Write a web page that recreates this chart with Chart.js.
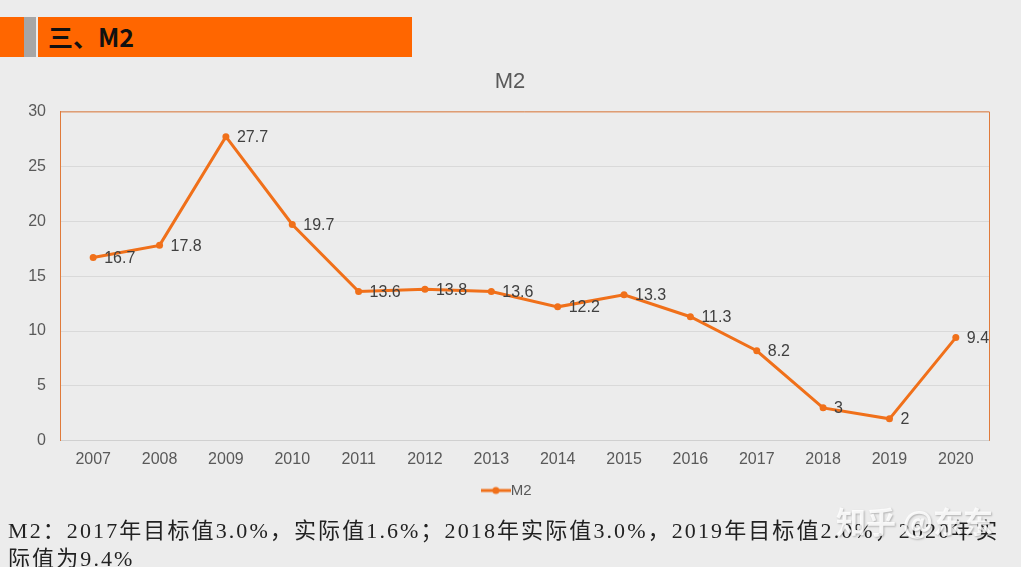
<!DOCTYPE html>
<html>
<head>
<meta charset="utf-8">
<script src="https://cdn.jsdelivr.net/npm/chart.js@4"></script>
<style>
  body { margin: 0; width: 1021px; height: 567px; overflow: hidden; background: #ececec; position: relative; font-family: "Liberation Sans", Arial, sans-serif; }
  #wrap { position: absolute; left: 0; top: 0; width: 1021px; height: 567px; }
  .bar1 { position: absolute; left: 0; top: 17px; width: 24px; height: 40px; background: #ff6600; }
  .bar2 { position: absolute; left: 24px; top: 17px; width: 12px; height: 40px; background: #a6a6a6; }
  .bar3 { position: absolute; left: 38px; top: 17px; width: 374px; height: 40px; background: #ff6600; }
  .head { position: absolute; left: 48px; top: 18px; font: bold 25px "Noto Sans CJK SC", "Liberation Sans", sans-serif; color: #111; }
  .note { position: absolute; left: 8px; top: 517px; width: 1010px; font-size: 22px; line-height: 28px; color: #222; letter-spacing: 2.1px;
          font-family: "Liberation Serif", "Noto Sans CJK SC", serif; }
  .mark { position: absolute; left: 836px; top: 498px; font: bold 30px "Noto Sans CJK SC", sans-serif; color: rgba(255,255,255,0.85);
          text-shadow: 1px 1px 2px rgba(0,0,0,0.25); }
</style>
</head>
<body>
<div id="wrap"><canvas id="chart1"></canvas></div>
<div class="bar1"></div><div class="bar2"></div><div class="bar3"></div>
<div class="head">三、M2</div>
<div class="note">M2：2017年目标值3.0%，实际值1.6%；2018年实际值3.0%，2019年目标值2.0%，2020年实际值为9.4%</div>
<div class="mark">知乎 @东东</div>
<script>
const years = ['2007', '2008', '2009', '2010', '2011', '2012', '2013', '2014', '2015', '2016', '2017', '2018', '2019', '2020'];
const m2Values = [16.7, 17.8, 27.7, 19.7, 13.6, 13.8, 13.6, 12.2, 13.3, 11.3, 8.2, 3, 2, 9.4];
const yTicks = [0, 5, 10, 15, 20, 25, 30];

const lineColor = '#f0701a';

// legend marker: line with a dot
const marker = document.createElement('canvas');
marker.width = 30; marker.height = 10;
const mctx = marker.getContext('2d');
mctx.strokeStyle = lineColor; mctx.lineWidth = 3;
mctx.beginPath(); mctx.moveTo(0, 5); mctx.lineTo(30, 5); mctx.stroke();
mctx.fillStyle = lineColor;
mctx.beginPath(); mctx.arc(15, 5, 3.5, 0, Math.PI * 2); mctx.fill();

// value labels right of each point
const valueLabels = {
    id: 'valueLabels',
    afterDatasetsDraw(chart) {
        const ctx = chart.ctx;
        const meta = chart.getDatasetMeta(0);
        ctx.save();
        ctx.font = '16px "Liberation Sans", Arial, sans-serif';
        ctx.fillStyle = '#404040';
        ctx.textAlign = 'left';
        ctx.textBaseline = 'middle';
        meta.data.forEach((pt, i) => {
            ctx.fillText(String(m2Values[i]), pt.x + 11, pt.y + 1);
        });
        ctx.restore();
    }
};

// orange frame on top and right of plot area
const frame = {
    id: 'frame',
    beforeDatasetsDraw(chart) {
        const a = chart.chartArea;
        const ctx = chart.ctx;
        ctx.save();
        ctx.strokeStyle = '#e07a3a';
        ctx.lineWidth = 1;
        ctx.beginPath();
        ctx.moveTo(a.left, a.top + 0.5);
        ctx.lineTo(a.right + 0.5, a.top + 0.5);
        ctx.lineTo(a.right + 0.5, a.bottom);
        ctx.stroke();
        ctx.restore();
    }
};

const ctx1 = document.getElementById('chart1').getContext('2d');
const chart1 = new Chart(ctx1, {
    type: 'line',
    data: {
        labels: years,
        datasets: [{
            label: 'M2',
            data: m2Values,
            borderColor: lineColor,
            backgroundColor: lineColor,
            borderWidth: 3,
            pointRadius: 3.5,
            pointBackgroundColor: lineColor,
            pointBorderWidth: 0,
            tension: 0
        }]
    },
    options: {
        responsive: true,
        maintainAspectRatio: false,
        animation: false,
        layout: { padding: { top: 69, left: 15, right: 16, bottom: 59 } },
        plugins: {
            title: {
                display: true,
                text: 'M2',
                color: '#595959',
                font: { size: 22, family: '"Liberation Sans", Arial, sans-serif', weight: 'normal' },
                padding: { top: 0, bottom: 16 }
            },
            legend: {
                position: 'bottom',
                labels: {
                    color: '#595959',
                    font: { size: 15, family: '"Liberation Sans", Arial, sans-serif' },
                    usePointStyle: true,
                    padding: 5,
                    generateLabels: (chart) => [{
                        text: 'M2', pointStyle: marker, fontColor: '#595959',
                        strokeStyle: lineColor, fillStyle: lineColor, lineWidth: 0, datasetIndex: 0
                    }]
                }
            },
            tooltip: { enabled: false }
        },
        scales: {
            x: {
                offset: true,
                grid: { display: false, drawTicks: false },
                border: { color: '#d0d0d0' },
                ticks: { color: '#595959', font: { size: 16, family: '"Liberation Sans", Arial, sans-serif' }, padding: 9 }
            },
            y: {
                min: 0, max: 30,
                afterBuildTicks: (axis) => { axis.ticks = yTicks.map(v => ({ value: v })); },
                afterFit: (axis) => { axis.width = 45; },
                grid: { color: '#d9d9d9', drawTicks: false },
                border: { color: '#e07a3a' },
                ticks: { color: '#595959', font: { size: 16, family: '"Liberation Sans", Arial, sans-serif' }, padding: 14 }
            },
            // empty right axis only to reserve space so title/legend sit centred like the original
            yRight: {
                position: 'right',
                min: 0, max: 30,
                afterFit: (axis) => { axis.width = 16; },
                grid: { display: false, drawTicks: false },
                border: { display: false },
                ticks: { display: false }
            }
        }
    },
    plugins: [frame, valueLabels]
});
</script>
</body>
</html>
